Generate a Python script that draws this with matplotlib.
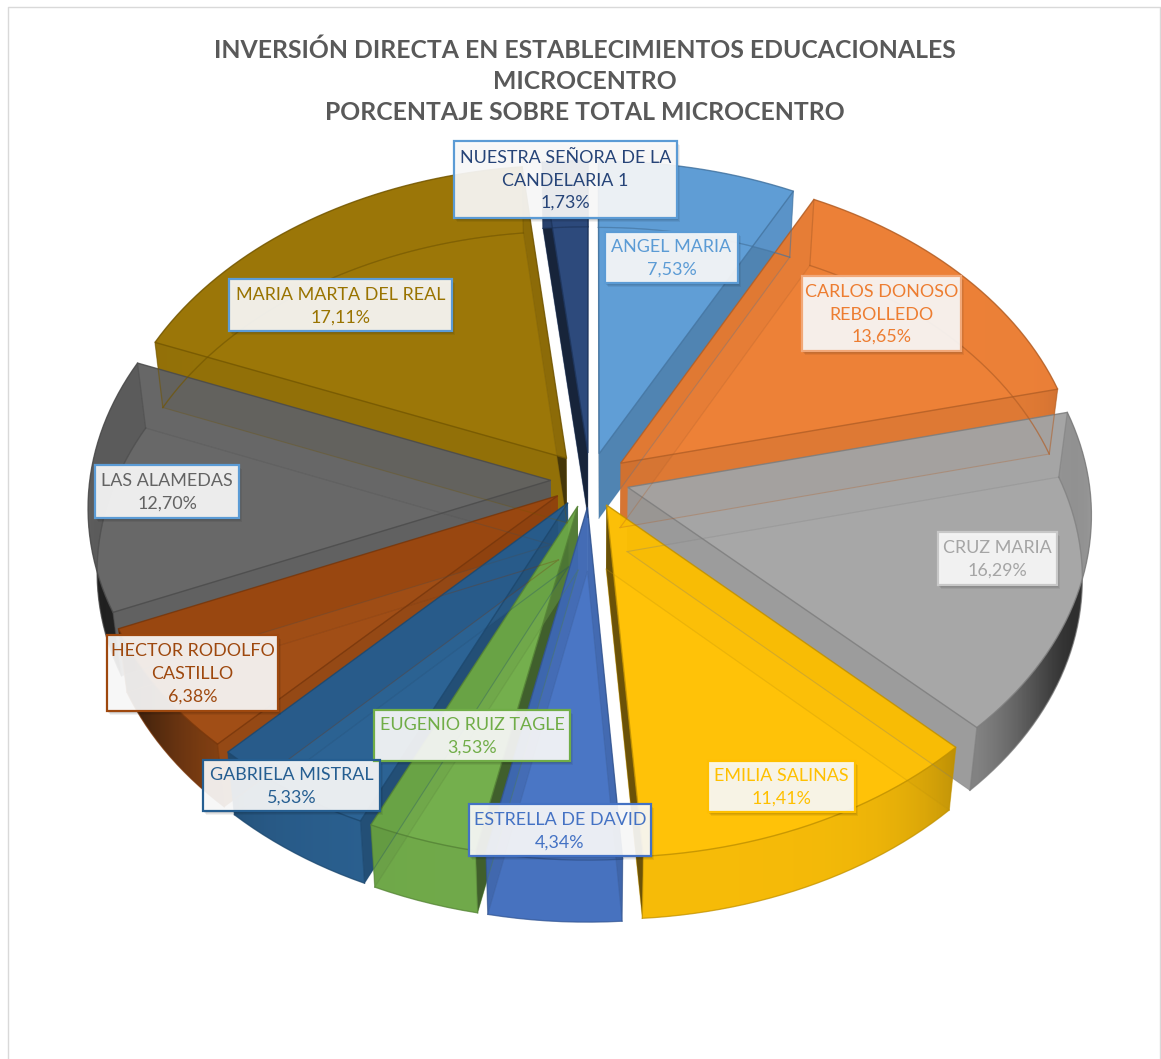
import matplotlib
matplotlib.use('Agg')
import matplotlib.pyplot as plt
from matplotlib.patches import Polygon, Rectangle
from matplotlib.colors import to_rgb
import numpy as np

plt.rcParams['font.family'] = ['Lato', 'DejaVu Sans']

# Slices, clockwise from 12 o'clock
names = ['ANGEL MARIA', 'CARLOS DONOSO\nREBOLLEDO', 'CRUZ MARIA', 'EMILIA SALINAS',
         'ESTRELLA DE DAVID', 'EUGENIO RUIZ TAGLE', 'GABRIELA MISTRAL',
         'HECTOR RODOLFO\nCASTILLO', 'LAS ALAMEDAS', 'MARIA MARTA DEL REAL',
         'NUESTRA SEÑORA DE LA\nCANDELARIA 1']
values = [7.53, 13.65, 16.29, 11.41, 4.34, 3.53, 5.33, 6.38, 12.70, 17.11, 1.73]
colors = ['#5B9BD5', '#ED7D31', '#A5A5A5', '#FFC000', '#4472C4', '#70AD47',
          '#255E91', '#9E480E', '#636363', '#997300', '#264478']
title = 'INVERSIÓN DIRECTA EN ESTABLECIMIENTOS EDUCACIONALES\nMICROCENTRO\nPORCENTAJE SOBRE TOTAL MICROCENTRO'

# Label boxes in pixels: left, top, right, bottom
boxes = [(605, 232, 738, 283), (802, 276, 961, 351), (938, 532, 1057, 585),
         (708, 761, 855, 812), (469, 804, 651, 856), (374, 710, 570, 761),
         (203, 760, 380, 811), (107, 635, 278, 711), (95, 465, 239, 518),
         (229, 279, 452, 331), (454, 141, 677, 218)]
box_edges = ['#5B9BD5', '#F2A878', '#C8C8C8', '#FFC000', '#4472C4', '#70AD47',
             '#255E91', '#9E480E', '#5B9BD5', '#5B9BD5', '#5B9BD5']

# Pie geometry (pixels)
CX, CY = 590, 480
RX, RY = 461, 320
PERSP = 0.08
EXPLODE = 0.085
ALPHA = 0.82


def project(x, y):
    # unit disc to screen, front of the pie a bit bigger than the back
    s = 1 / (1 - PERSP * y)
    return CX + RX * x * s, CY + RY * y * s


def lower(px, py):
    # same point on the bottom of the pie
    return CX + 0.982 * (px - CX), py + 66 - 0.006 * (py - 200)


def darken(c, amount):
    return tuple(v * (1 - amount) for v in to_rgb(c))


def wall_shade(t):
    # wall goes dark low on the left and right sides of the pie
    phi = np.degrees(np.arccos(np.cos(t)))
    return 0.04 + 0.85 * np.exp(-((phi - 110) / 22) ** 2)


fig = plt.figure(figsize=(11.61, 10.59), dpi=100)
ax = fig.add_axes([0, 0, 1, 1])

# chart frame
ax.plot([8, 8, 1160, 1160], [1059, 7, 7, 1059], color='#D9D9D9', lw=1)

edges = np.cumsum([0] + values) / sum(values) * 2 * np.pi
mids = (edges[:-1] + edges[1:]) / 2
order = np.argsort(-np.cos(mids))  # back slices first

for i in order:
    color = colors[i]
    t0, t1 = edges[i], edges[i + 1]
    ox = EXPLODE * np.sin(mids[i])
    oy = -EXPLODE * np.cos(mids[i])
    th = np.linspace(t0, t1, max(int((t1 - t0) / 0.025), 2))
    ax_, ay_ = project(ox + np.sin(th), oy - np.cos(th))
    tipx, tipy = project(ox, oy)
    lax, lay = lower(ax_, ay_)
    ltx, lty = lower(tipx, tipy)
    line = darken(color, 0.25)

    # bottom face
    ax.add_patch(Polygon(np.c_[np.r_[ltx, lax], np.r_[lty, lay]], closed=True,
                         facecolor=color, alpha=ALPHA, edgecolor='none'))
    ax.plot(np.r_[ltx, lax, ltx], np.r_[lty, lay, lty], color=line, lw=0.8, alpha=0.3)

    # two radial walls
    for t, k in ((t0, 0), (t1, -1)):
        dark = 0.08 + 0.65 * abs(np.cos(t)) ** 14
        ax.add_patch(Polygon([(tipx, tipy), (ax_[k], ay_[k]), (lax[k], lay[k]), (ltx, lty)],
                             closed=True, facecolor=darken(color, dark), alpha=ALPHA,
                             edgecolor='none'))

    # outer wall: gradient image clipped to the wall outline
    xs = np.arange(np.floor(min(ax_.min(), lax.min())), np.ceil(max(ax_.max(), lax.max())) + 1)
    front = np.cos(th) < 0
    if front.sum() < 2:
        front = np.ones_like(th, dtype=bool)
    sort = np.argsort(ax_[front])
    shade = wall_shade(np.interp(xs, ax_[front][sort], th[front][sort]))
    grad = np.ones((1, len(xs), 4))
    grad[0, :, :3] = np.outer(1 - shade, to_rgb(color))
    grad[0, :, 3] = ALPHA
    wall = Polygon(np.c_[np.r_[ax_, lax[::-1]], np.r_[ay_, lay[::-1]]], closed=True,
                   facecolor='none', edgecolor='none')
    ax.add_patch(wall)
    im = ax.imshow(grad, extent=(xs[0], xs[-1], lay.max(), ay_.min()), aspect='auto',
                   interpolation='bilinear', zorder=1)
    im.set_clip_path(wall)
    ax.plot(lax, lay, color=line, lw=0.9, alpha=0.55)
    ax.plot([ax_[0], lax[0]], [ay_[0], lay[0]], color=line, lw=0.9, alpha=0.55)
    ax.plot([ax_[-1], lax[-1]], [ay_[-1], lay[-1]], color=line, lw=0.9, alpha=0.55)

    # top face
    top = Polygon(np.c_[np.r_[tipx, ax_], np.r_[tipy, ay_]], closed=True,
                  facecolor=color, alpha=ALPHA, edgecolor=line, lw=1, zorder=1)
    ax.add_patch(top)

ax.set_xlim(0, 1161)
ax.set_ylim(1059, 0)
ax.set_aspect('auto')
ax.axis('off')

# data labels
for i, name in enumerate(names):
    x0, y0, x1, y1 = boxes[i]
    for off, a in ((5, 0.06), (4, 0.07), (3, 0.08), (2, 0.1)):
        ax.add_patch(Rectangle((x0 + off - 2, y0 + off - 1), x1 - x0, y1 - y0,
                               facecolor='black', alpha=a, lw=0, zorder=5))
    ax.add_patch(Rectangle((x0, y0), x1 - x0, y1 - y0, facecolor='white', alpha=0.9,
                           edgecolor='none', zorder=6))
    ax.add_patch(Rectangle((x0, y0), x1 - x0, y1 - y0, fill=False,
                           edgecolor=box_edges[i], lw=1.6, zorder=7))
    pct = f'{values[i]:.2f}'.replace('.', ',') + '%'
    ax.text((x0 + x1) / 2, (y0 + y1) / 2 + 1, name + '\n' + pct, color=colors[i],
            ha='center', va='center', fontsize=12.9, linespacing=1.5, zorder=8)

ax.text(585, 81, title, ha='center', va='center', fontsize=17.8, fontweight='bold',
        color='#595959', linespacing=1.43)

fig.savefig('out.png', dpi=100)
plt.close(fig)
